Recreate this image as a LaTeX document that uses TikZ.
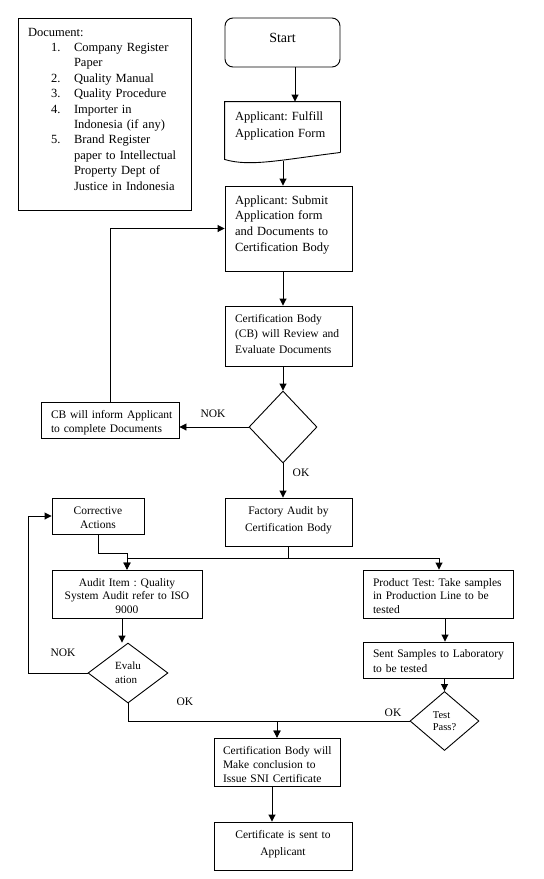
\documentclass[tikz,border=0pt]{standalone}
\usepackage{fontspec}
\setmainfont{Liberation Serif}
\usetikzlibrary{arrows.meta,shapes.geometric}
\frenchspacing
\hyphenpenalty=10000
\exhyphenpenalty=10000
\newcommand\docitem[1]{\hspace*{23pt}\makebox[23pt][l]{#1}}
\newcommand\docind{\hspace*{46pt}}
\begin{document}
\begin{tikzpicture}[x=1pt,y=-1pt,line width=0.9pt,
  box/.style={draw, rectangle, inner xsep=10pt, inner ysep=0pt, align=left, font=\fontsize{11.5}{14}\selectfont},
  cbox/.style={box, align=center},
  dia/.style={draw, diamond, inner sep=0pt, align=left},
  arr/.style={-{Triangle[length=7pt,width=7pt]}},
  lbl/.style={font=\fontsize{11.5}{14}\selectfont, inner sep=0pt}]
\fill[white] (0,0) rectangle (544,879);
\useasboundingbox (0,0) rectangle (544,879);

% document list
\node[box, text width=153pt, text height=18pt, text depth=174pt, font=\fontsize{12.5}{15.4}\selectfont] (doc) at (104.5,114) {Document:\\
\docitem{1.}Company Register\\
\docind Paper\\
\docitem{2.}Quality Manual\\
\docitem{3.}Quality Procedure\\
\docitem{4.}Importer in\\
\docind Indonesia (if any)\\
\docitem{5.}Brand Register\\
\docind paper to Intellectual\\
\docind Property Dept of\\
\docind Justice in Indonesia};

\node[cbox, rounded corners=8pt, text width=95pt, text height=24pt, text depth=25pt, font=\fontsize{14}{17}\selectfont] (start) at (282.5,42.5) {Start};

\node[box, draw=none, text width=95pt, text height=18pt, text depth=32pt, font=\fontsize{12.5}{17}\selectfont] (fulfill) at (282.5,127) {Applicant: Fulfill\\Application Form};
\draw (fulfill.south east) -- (fulfill.north east) -- (fulfill.north west) -- ([yshift=-7pt]fulfill.south west) .. controls (250,167) and (280,160) .. (fulfill.south east);
\coordinate (fwave) at (283,161);

\node[box, text width=107pt, text height=18pt, text depth=67pt, font=\fontsize{12.5}{15.7}\selectfont] (submit) at (288.5,228.5) {Applicant: Submit\\Application form\\and Documents to\\Certification Body};

\node[box, text width=107pt, text height=16pt, text depth=44pt, font=\fontsize{11.5}{15.5}\selectfont] (review) at (288.5,336) {Certification Body\\(CB) will Review and\\Evaluate Documents};

\node[dia, minimum width=68pt, minimum height=72pt] (d1) at (283,427) {};

\node[box, text width=118pt, text height=16pt, text depth=20pt] (inform) at (110,420) {\mbox{CB will inform Applicant}\\\mbox{to complete Documents}};

\node[cbox, text width=107pt, text height=16pt, text depth=32pt, font=\fontsize{11.5}{17}\selectfont] (factory) at (288.5,522) {Factory Audit by\\Certification Body};

\node[cbox, text width=72pt, text height=16pt, text depth=20pt] (corr) at (98,516) {Corrective\\Actions};

\node[cbox, text width=130pt, text height=16pt, text depth=32pt, font=\fontsize{11.5}{13.5}\selectfont] (audit) at (127,594) {Audit Item : Quality\\System Audit refer to ISO\\9000};

\node[box, text width=130pt, text height=16pt, text depth=32pt, font=\fontsize{11.5}{13.5}\selectfont] (product) at (438,594) {\mbox{Product Test: Take samples}\\\mbox{in Production Line to be}\\tested};

\node[box, text width=130pt, text height=15pt, text depth=21pt, font=\fontsize{11.5}{15}\selectfont] (sent) at (438,660) {\mbox{Sent Samples to Laboratory}\\\mbox{to be tested}};

\node[dia, minimum width=80pt, minimum height=60pt, font=\fontsize{11}{13.7}\selectfont] (eval) at (128,673) {Evalu\\ation};

\node[dia, minimum width=69pt, minimum height=59pt, font=\fontsize{10.5}{12}\selectfont] (test) at (444.5,721) {Test\\Pass?};

\node[box, inner xsep=9pt, text width=108pt, text height=16pt, text depth=32pt] (concl) at (277,762) {\mbox{Certification Body will}\\\mbox{Make conclusion to}\\\mbox{Issue SNI Certificate}};

\node[cbox, text width=118pt, text height=16pt, text depth=32pt, font=\fontsize{11.5}{17}\selectfont] (final) at (283,846) {Certificate is sent to\\Applicant};

% labels
\node[lbl] (nok1) at (213,414) {NOK};
\node[lbl] (ok1) at (301,473) {OK};
\node[lbl] (nok2) at (63,653) {NOK};
\node[lbl] (ok2) at (185,702) {OK};
\node[lbl] (ok3) at (393,713) {OK};

% connectors
\draw[arr] ([xshift=12.5pt]start.south) -- ([xshift=12.5pt]fulfill.north);
\draw[arr] (fwave) -- (fwave |- submit.north);
\draw[arr] (submit.south -| d1) -- (review.north -| d1);
\draw[arr] (review.south -| d1) -- (d1.north);
\draw[arr] (d1.west) -- (d1.west -| inform.east);
\draw[arr] (inform.north) |- (submit.west);
\draw[arr] (d1.south) -- (factory.north -| d1);
\draw (factory.south) -- ++(0,12) coordinate (split);
\draw[arr] (split) -| (audit.north);
\draw[arr] (split) -| ([xshift=1pt]product.north);
\draw[arr] (corr.south) -- ++(0,19) -| (audit.north);
\draw[arr] ([xshift=-5pt]audit.south) -- ([xshift=-6pt]eval.north);
\draw[arr] (eval.west) -- ++(-59,0) |- (corr.west);
\draw[arr] (eval.south) -- ++(0,18) -| (concl.north);
\draw[arr] ([xshift=7pt]product.south) -- ([xshift=7pt]product.south |- sent.north);
\draw[arr] (sent.south -| test.north) -- (test.north);
\draw[arr] (test.west) -| (concl.north);
\draw[arr] ([xshift=-5pt]concl.south) -- ([xshift=-5pt]concl.south |- final.north);
\end{tikzpicture}
\end{document}
